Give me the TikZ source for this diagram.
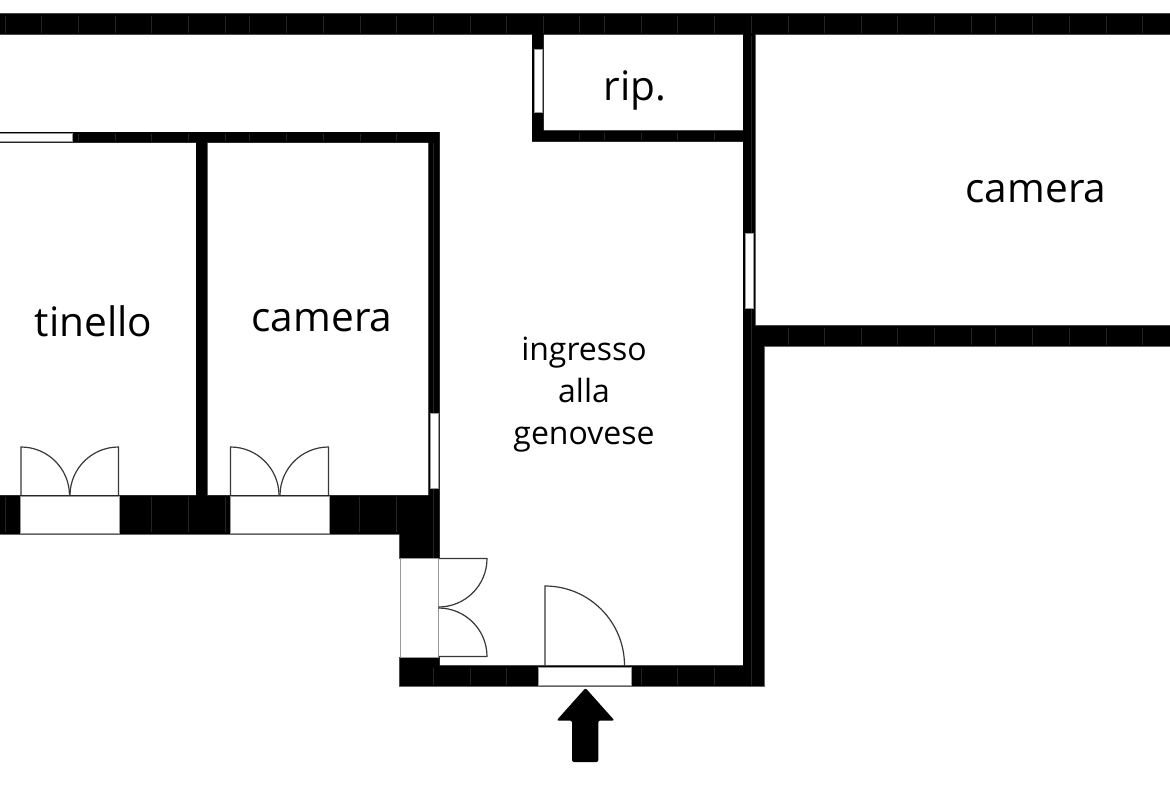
\documentclass[tikz,border=0pt]{standalone}
\usepackage{fontspec}
\setmainfont{Open Sans}
\usepackage{tikz}
\tikzstyle{walledge}=[draw=black!55, line width=0.9pt]
\tikzstyle{wallfill}=[fill=black]
\tikzstyle{tick}=[draw=black!86, line width=0.7pt]
\tikzstyle{glass}=[draw=black!40, fill=white, line width=0.8pt]
\tikzstyle{leaf}=[draw=black!78, line width=1.2pt]
\tikzstyle{bigroom}=[font=\fontsize{40.6}{42}\selectfont, inner sep=0pt, anchor=base]
\tikzstyle{smallroom}=[font=\fontsize{32}{42}\selectfont, inner sep=0pt, align=center]
\newcommand{\wallpath}{
	(-5,13.7) rectangle (1175,34.3)
	(532,34) rectangle (543.5,141.5)
	(532,130.7) rectangle (755,141.5)
	(-5,132) rectangle (439.5,142.7)
	(196,142) rectangle (207,495.5)
	(428.5,132) rectangle (439.5,558)
	(-5,495.3) rectangle (439.5,534)
	(399.5,534) rectangle (439.5,558)
	(399.5,657) rectangle (439.5,686)
	(399.5,665.7) rectangle (764,686)
	(743,34) rectangle (755,347)
	(743,326) rectangle (764,686)
	(755,325.7) rectangle (1175,346)
}
\begin{document}
\begin{tikzpicture}[x=1pt,y=-1pt]
			\path[use as bounding box,clip] (0,0) rectangle (1170,785);
			\fill[white] (0,0) rectangle (1170,785);
			\path[walledge] \wallpath;
			\path[wallfill] \wallpath;
			\foreach \tx in {5,41.7,78.3,115,151.5,188,225,249,286,323,360,396,433,470,506,543,579,604.5,641,677,714,751,788,824,861,897.5,934,971,995,1032,1069,1106,1142}
				\draw[tick] (\tx,15.5) -- (\tx,32.5);
			\foreach \tx in {788,824,861,897.5,934,971,995,1032,1069,1106,1142}
				\draw[tick] (\tx,327.5) -- (\tx,344.5);
			\foreach \tx in {78.3,115,151.5,188,225,249,286,323,360,396}
				\draw[tick] (\tx,133.5) -- (\tx,141);
			\foreach \tx in {579,604.5,641,677,714}
				\draw[tick] (\tx,132.5) -- (\tx,140);
			\foreach \tx in {5,151.5,188,225,359,396}
				\draw[tick] (\tx,497) -- (\tx,532);
			\foreach \tx in {433,470,506,641,677,714,751}
				\draw[tick] (\tx,667.5) -- (\tx,684.5);
			\draw[tick] (433,143) -- (433,656);
			\draw[tick] (751,36) -- (751,684);
			\draw[glass] (-5,133.5) rectangle (72.5,141);
			\draw[glass] (534,49) rectangle (542,112);
			\draw[glass] (430,413) rectangle (438,488);
			\draw[glass] (745,233) rectangle (753,308);
			\draw[glass] (20,496.5) rectangle (119.5,533);
			\draw[glass] (230,496.5) rectangle (329,533);
			\draw[glass] (400.7,558) rectangle (438.5,657);
			\draw[glass] (538.5,667) rectangle (631,685);
			\draw[leaf] (21,495) -- (21,447) arc[start angle=-90,end angle=0,radius=48.5];
			\draw[leaf] (118.5,495) -- (118.5,447) arc[start angle=-90,end angle=-180,radius=48.5];
			\draw[leaf] (230.5,495) -- (230.5,447) arc[start angle=-90,end angle=0,radius=48.5];
			\draw[leaf] (328.5,495) -- (328.5,447) arc[start angle=-90,end angle=-180,radius=48.5];
			\draw[leaf] (438.5,558.5) -- (487,558.5) arc[start angle=0,end angle=90,radius=48.5];
			\draw[leaf] (438.5,656.5) -- (487,656.5) arc[start angle=0,end angle=-90,radius=48.5];
			\draw[leaf] (545,665.5) -- (545,586) arc[start angle=-90,end angle=0,radius=79.5];
			\fill[rounded corners=2pt] (585.5,688) -- (614.5,720.5) -- (598.3,720.5) -- (598.3,762) -- (572,762) -- (572,720.5) -- (556.5,720.5) -- cycle;
			\node (rip) at (635,100) [bigroom] {rip.};
			\node (cameraeast) at (1036,202) [bigroom] {camera};
			\node (tinello) at (93.5,336.5) [bigroom] {tinello};
			\node (camerawest) at (322,331.5) [bigroom] {camera};
			\node (ingresso) at (584,395) [smallroom] {ingresso\\alla\\genovese};
	\end{tikzpicture}
\end{document}
